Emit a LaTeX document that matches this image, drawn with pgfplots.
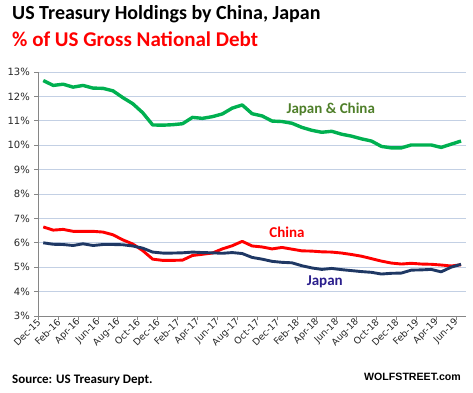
\documentclass[border=0pt]{standalone}
\usepackage{pgfplots}
\pgfplotsset{compat=1.18}
\usepackage{pgfplotstable}
\usepackage{fontspec}
\setmainfont{Carlito}
\newfontfamily\tickfont{DejaVu Sans}
\newfontfamily\arialfont{Liberation Sans}
\definecolor{jcgreen}{HTML}{00B050}
\definecolor{cnred}{HTML}{FF0000}
\definecolor{jpblue}{HTML}{1F3864}
\definecolor{jclabel}{HTML}{4F7F2A}
\definecolor{jplabel}{HTML}{2A1E8C}
\definecolor{gridc}{HTML}{C3D0E4}
\definecolor{axisc}{HTML}{868686}

\pgfplotstableread{
x    jc     cn    jp
0.5  12.65  6.65  6.00
1.5  12.45  6.52  5.94
2.5  12.50  6.55  5.93
3.5  12.38  6.47  5.89
4.5  12.45  6.47  5.96
5.5  12.34  6.47  5.89
6.5  12.33  6.44  5.93
7.5  12.23  6.33  5.93
8.5  11.95  6.12  5.92
9.5  11.70  5.95  5.87
10.5 11.33  5.68  5.78
11.5 10.83  5.33  5.62
12.5 10.82  5.28  5.58
13.5 10.84  5.28  5.58
14.5 10.88  5.29  5.59
15.5 11.14  5.48  5.62
16.5 11.10  5.53  5.60
17.5 11.17  5.58  5.59
18.5 11.28  5.75  5.57
19.5 11.52  5.88  5.60
20.5 11.65  6.06  5.56
21.5 11.29  5.87  5.40
22.5 11.20  5.83  5.33
23.5 10.99  5.75  5.24
24.5 10.97  5.81  5.20
25.5 10.90  5.74  5.18
26.5 10.73  5.67  5.06
27.5 10.61  5.66  4.97
28.5 10.53  5.63  4.91
29.5 10.57  5.62  4.95
30.5 10.45  5.58  4.90
31.5 10.37  5.52  4.86
32.5 10.26  5.45  4.82
33.5 10.17  5.35  4.79
34.5 9.95   5.25  4.72
35.5 9.89   5.17  4.75
36.5 9.89   5.13  4.76
37.5 10.01  5.16  4.88
38.5 10.01  5.13  4.89
39.5 10.01  5.12  4.91
40.5 9.91   5.09  4.81
41.5 10.04  5.05  5.00
42.5 10.17  5.10  5.12
}\datatable

\begin{document}
\begin{tikzpicture}
\path[use as bounding box] (0,0) rectangle (473pt,392pt);
\begin{axis}[
  at={(38.3pt,76pt)}, anchor=south west,
  scale only axis, width=427.7pt, height=244pt,
  xmin=0, xmax=43, ymin=3, ymax=13,
  axis lines*=left,
  axis line style={axisc, line width=0.9pt},
  ytick={3,4,...,13},
  yticklabel={\pgfmathprintnumber{\tick}\%},
  xtick={0,2,...,42},
  xticklabels={Dec-15,Feb-16,Apr-16,Jun-16,Aug-16,Oct-16,Dec-16,Feb-17,Apr-17,Jun-17,Aug-17,Oct-17,Dec-17,Feb-18,Apr-18,Jun-18,Aug-18,Oct-18,Dec-18,Feb-19,Apr-19,Jun-19},
  tick align=outside,
  major tick length=4pt,
  tick style={axisc, line width=0.8pt},
  ymajorgrids,
  major grid style={gridc, line width=0.9pt},
  /pgf/number format/assume math mode=true,
  yticklabel style={font=\tickfont\fontsize{10}{12}\selectfont, text=black!85, xshift=-1pt},
  xticklabel style={font=\tickfont\fontsize{9.3}{11}\selectfont, text=black!85, rotate=45, anchor=east, xshift=1pt, yshift=-1pt, inner sep=1pt},
  clip=false,
]
\addplot[jcgreen, line width=3.4pt, line join=round] table[x=x, y=jc] {\datatable};
\addplot[cnred, line width=2.9pt, line join=round] table[x=x, y=cn] {\datatable};
\addplot[jpblue, line width=2.9pt, line join=round] table[x=x, y=jp] {\datatable};
\node[text=jclabel, font=\bfseries\fontsize{15}{18}\selectfont] at (axis cs:29.4,11.48) {Japan \& China};
\node[text=cnred, font=\bfseries\fontsize{15}{18}\selectfont] at (axis cs:25.0,6.44) {China};
\node[text=jplabel, font=\bfseries\fontsize{15}{18}\selectfont] at (axis cs:28.8,4.39) {Japan};
\end{axis}
\node[anchor=base west, font=\bfseries\fontsize{20}{23}\selectfont, text=black, inner sep=0pt] at (12pt,373pt) {US Treasury Holdings by China, Japan};
\node[anchor=base west, font=\bfseries\fontsize{21}{24}\selectfont, text=cnred, inner sep=0pt] at (12pt,346pt) {\% of US Gross National Debt};
\node[anchor=west, font=\bfseries\fontsize{13}{15}\selectfont, text=black, inner sep=0pt] at (12pt,12pt) {Source: US Treasury Dept.};
\node[anchor=east, font=\arialfont\bfseries\fontsize{10.6}{13}\selectfont, text=black, inner sep=0pt] at (461pt,15pt) {WOLFSTREET.com};
\end{tikzpicture}
\end{document}
